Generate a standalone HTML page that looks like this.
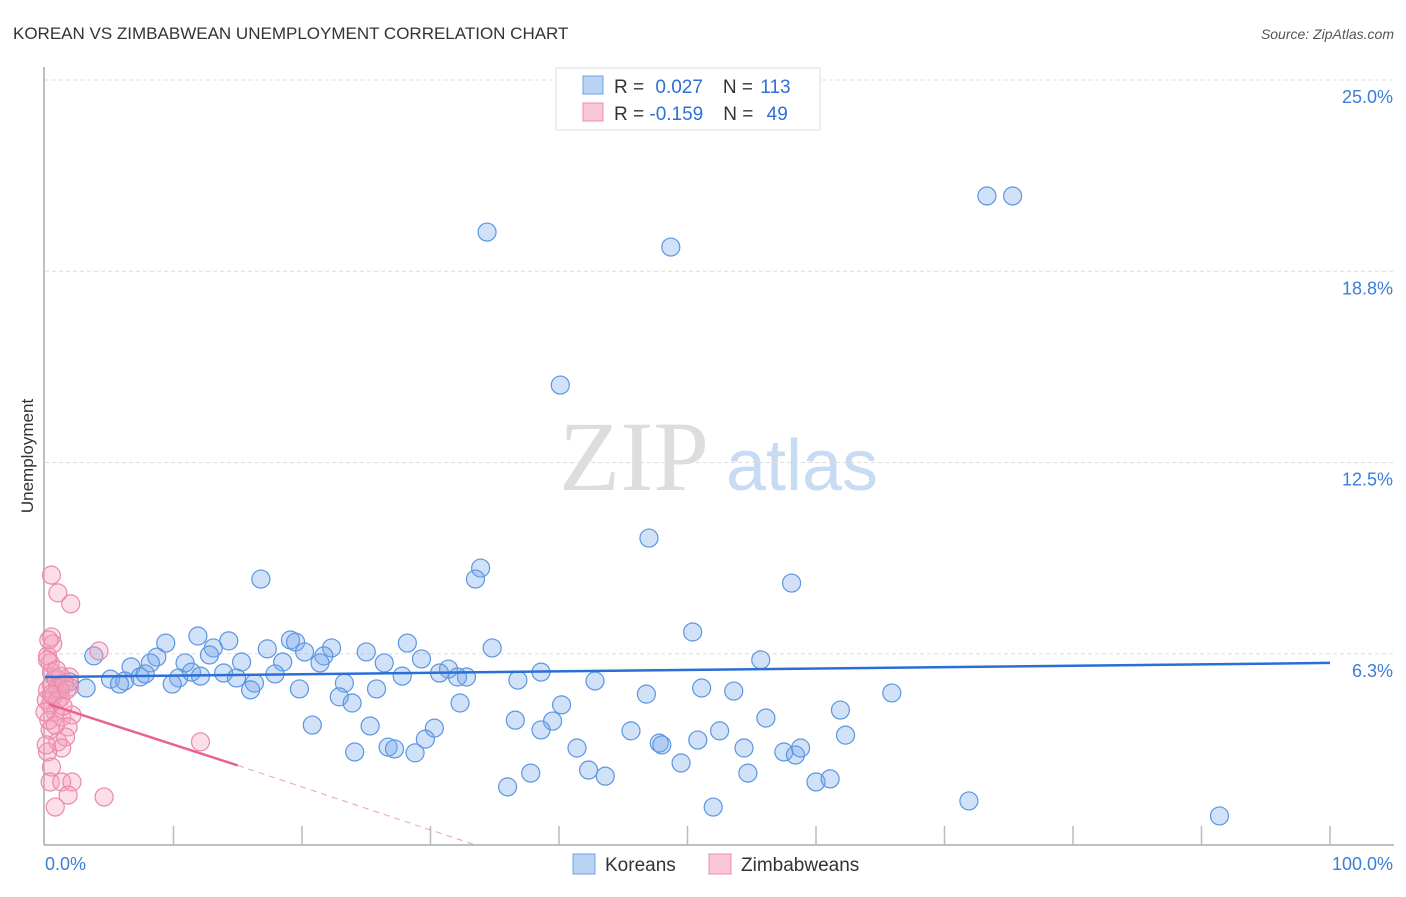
<!DOCTYPE html>
<html><head><meta charset="utf-8"><style>
body{margin:0;background:#fff;font-family:"Liberation Sans",sans-serif}
svg text{font-family:"Liberation Sans",sans-serif}
</style></head><body>
<svg id="c" width="1406" height="892" xmlns="http://www.w3.org/2000/svg">
<text x="13" y="39" font-size="17" fill="#333">KOREAN VS ZIMBABWEAN UNEMPLOYMENT CORRELATION CHART</text>
<text x="1394" y="39" font-size="14" fill="#555" text-anchor="end" font-style="italic">Source: ZipAtlas.com</text>
<text x="0" y="0" transform="translate(33,456) rotate(-90)" font-size="17" fill="#333" text-anchor="middle">Unemployment</text>
<g><text x="634" y="490" font-size="100" fill="#ddd" style="font-family:'Liberation Serif',serif" text-anchor="middle">ZIP</text><text x="802" y="490" font-size="72" fill="#c7dbf3" text-anchor="middle">atlas</text></g>
<g id="grid"></g><g id="axes"></g><g id="pts"></g><g id="trend"></g>
<g>
<rect x="556" y="68" width="264" height="62" fill="#fff" stroke="#ddd"/>
<rect x="583" y="76" width="20" height="18" fill="#b9d3f5" stroke="#6fa3e3"/>
<rect x="583" y="103" width="20" height="18" fill="#f9c6d5" stroke="#eb8eaa"/>
<text x="614" y="93" font-size="19" fill="#333">R = <tspan dx="6" fill="#2f6fd6">0.027</tspan><tspan dx="20">N = </tspan><tspan dx="2" fill="#2f6fd6">113</tspan></text>
<text x="614" y="120" font-size="19" fill="#333">R = <tspan fill="#2f6fd6">-0.159</tspan><tspan dx="20">N = </tspan><tspan dx="8" fill="#2f6fd6">49</tspan></text>
</g>
<g>
<rect x="573" y="854" width="22" height="20" fill="#b9d3f5" stroke="#6fa3e3"/>
<text x="605" y="871" font-size="19" fill="#333">Koreans</text>
<rect x="709" y="854" width="22" height="20" fill="#f9c6d5" stroke="#eb8eaa"/>
<text x="741" y="871" font-size="19" fill="#333">Zimbabweans</text>
</g>
</svg>
<script>
const yTicks=[6.25,12.5,18.75,25];
const yTickLabels=["6.3%","12.5%","18.8%","25.0%"];
const xTicks=[10,20,30,40,50,60,70,80,90,100];
const koreanX=[34.4,48.7,73.3,75.3,40.1,47.0,33.9,33.5,16.8,58.1,50.4,11.9,9.4,14.3,19.1,19.5,28.2,34.8,17.3,22.3,20.2,25.0,13.1,3.8,8.7,21.7,55.7,6.7,8.2,10.9,12.8,15.3,18.5,21.4,26.4,29.3,31.4,30.7,32.8,38.6,5.1,6.2,7.4,7.8,10.4,11.4,12.1,13.9,14.9,16.3,17.9,23.3,27.8,32.1,36.8,42.8,3.2,1.9,0.8,1.2,5.8,9.9,16.0,19.8,22.9,25.8,23.9,32.3,40.2,46.8,51.1,53.6,65.9,61.9,20.8,25.3,30.3,36.6,39.5,38.6,45.6,52.5,56.1,62.3,24.1,26.7,27.2,28.8,29.6,41.4,47.8,48.0,50.8,54.4,57.5,58.4,58.8,49.5,54.7,42.3,43.6,37.8,36.0,60.0,61.1,52.0,71.9,91.4];
const koreanY=[20.03,19.54,21.21,21.21,15.03,10.03,9.05,8.69,8.69,8.56,6.96,6.83,6.60,6.67,6.70,6.63,6.60,6.44,6.41,6.44,6.31,6.31,6.44,6.18,6.14,6.18,6.05,5.82,5.95,5.95,6.21,5.98,5.98,5.95,5.95,6.08,5.75,5.62,5.49,5.65,5.42,5.36,5.49,5.59,5.46,5.65,5.52,5.62,5.46,5.29,5.59,5.29,5.52,5.49,5.39,5.36,5.13,5.33,5.46,5.07,5.26,5.26,5.07,5.10,4.84,5.10,4.64,4.64,4.58,4.93,5.13,5.03,4.97,4.41,3.92,3.89,3.82,4.08,4.05,3.76,3.73,3.73,4.15,3.59,3.04,3.20,3.14,3.01,3.46,3.17,3.33,3.27,3.43,3.17,3.04,2.94,3.17,2.68,2.35,2.45,2.25,2.35,1.90,2.06,2.16,1.24,1.44,0.95];
const zimX=[0.5,1.0,2.0,0.5,0.6,4.2,0.2,0.4,0.5,1.9,1.9,1.2,0.4,0.8,1.3,2.1,1.8,0.4,1.0,1.6,1.3,0.2,0.5,0.4,1.3,2.1,1.8,4.6,0.8,12.1,0.2,0.5,0.9,0.1,0.3,0.7,1.0,0.2,1.2,1.5,0.1,1.0,0.5,0.0,0.8,1.4,0.9,0.3,1.7];
const zimY=[8.82,8.24,7.88,6.80,6.57,6.34,6.18,5.95,5.65,5.49,5.16,4.80,4.58,4.35,4.18,4.25,3.86,3.76,3.37,3.53,3.17,3.04,2.55,2.06,2.06,2.06,1.63,1.57,1.24,3.37,5.07,5.23,5.39,4.74,4.08,4.90,5.13,6.05,5.52,5.26,3.27,4.74,4.93,4.35,3.92,4.54,5.72,6.70,5.07];
const koreanTrend=[5.49,5.95];
const zimTrend=[4.6,2.6];
const zimTrendDashEnd=33.5;
const NS="http://www.w3.org/2000/svg";
const sx=v=>45+v*12.85, sy=v=>845-v*30.6;
function mk(tag,attrs,parent){const e=document.createElementNS(NS,tag);for(const k in attrs)e.setAttribute(k,attrs[k]);parent.appendChild(e);return e;}
const grid=document.getElementById('grid'),axes=document.getElementById('axes'),pts=document.getElementById('pts'),tr=document.getElementById('trend');
yTicks.forEach((t,i)=>{
 const l=mk('line',{x1:45,x2:1394,y1:sy(t),y2:sy(t),stroke:'#ddd','stroke-dasharray':'4,3'},grid);
 
 
 const tx=mk('text',{x:1393,y:sy(t)+23,'font-size':18,fill:'#3b7dd8','text-anchor':'end'},grid);
 tx.textContent=yTickLabels[i];
 
 
});
const ya=mk('line',{x1:44,x2:44,y1:67,y2:845,stroke:'#aaa','stroke-width':1.5},axes);


const xa=mk('line',{x1:44,x2:1394,y1:845,y2:845,stroke:'#aaa','stroke-width':1.5},axes);


xTicks.forEach(t=>{const l=mk('line',{x1:sx(t),x2:sx(t),y1:826,y2:845,stroke:'#bbb','stroke-width':1.5},axes);
 
 });
const x0=mk('text',{x:45,y:870,'font-size':18,fill:'#3b7dd8'},axes);x0.textContent='0.0%';


const x1=mk('text',{x:1393,y:870,'font-size':18,fill:'#3b7dd8','text-anchor':'end'},axes);x1.textContent='100.0%';


koreanX.forEach((x,i)=>{const c=mk('circle',{cx:sx(x),cy:sy(koreanY[i]),r:9,fill:'rgba(120,170,235,0.35)',stroke:'#5b96e0','stroke-width':1.2},pts);
 
 });
zimX.forEach((x,i)=>{const c=mk('circle',{cx:sx(x),cy:sy(zimY[i]),r:9,fill:'rgba(245,160,190,0.35)',stroke:'#e98aa8','stroke-width':1.2},pts);
 
 });
const kt=mk('line',{x1:sx(0),y1:sy(koreanTrend[0]),x2:sx(100),y2:sy(koreanTrend[1]),stroke:'#2a6fd6','stroke-width':2.5},tr);


const zt=mk('line',{x1:sx(0.3),y1:sy(zimTrend[0]),x2:sx(15),y2:sy(zimTrend[1]),stroke:'#e8638f','stroke-width':2.5},tr);


const zd=mk('line',{x1:sx(15),y1:sy(zimTrend[1]),x2:sx(zimTrendDashEnd),y2:sy(0),stroke:'#e8a0b8','stroke-width':1,'stroke-dasharray':'6,5'},tr);


</script>
</body></html>
